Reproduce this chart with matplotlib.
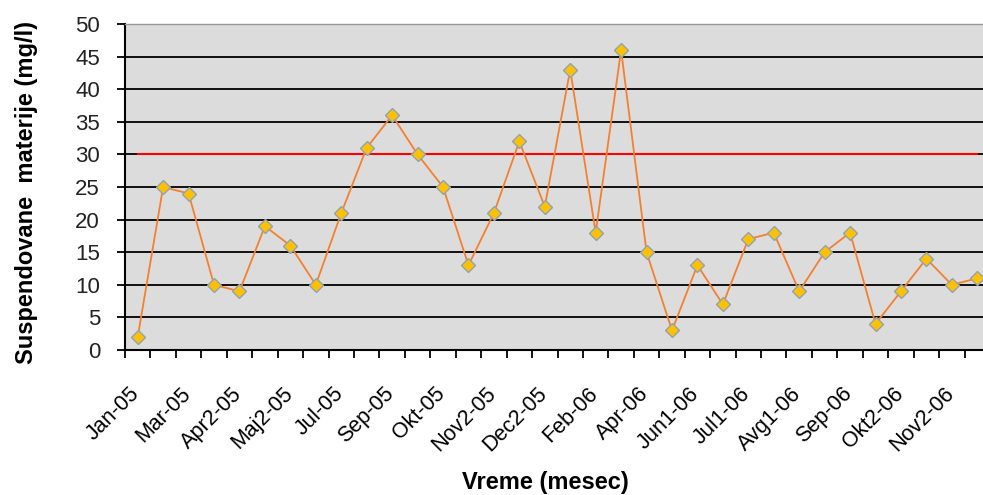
import matplotlib
matplotlib.use("Agg")
import matplotlib.pyplot as plt
from matplotlib.ticker import FixedLocator, MultipleLocator

plt.rcParams['font.family'] = ['Liberation Sans', 'DejaVu Sans']

# months (some months sampled twice), only every other one is labelled
months = ["Jan-05", "Feb-05", "Mar-05", "Apr1-05", "Apr2-05", "Maj1-05", "Maj2-05",
          "Jun-05", "Jul-05", "Avg-05", "Sep-05", "Sep2-05", "Okt-05", "Nov1-05",
          "Nov2-05", "Dec1-05", "Dec2-05", "Jan-06", "Feb-06", "Mar-06", "Apr-06",
          "Maj-06", "Jun1-06", "Jun2-06", "Jul1-06", "Jul2-06", "Avg1-06", "Avg2-06",
          "Sep-06", "Okt1-06", "Okt2-06", "Nov1-06", "Nov2-06", "Dec-06"]
suspended = [2, 25, 24, 10, 9, 19, 16, 10, 21, 31, 36, 30, 25, 13, 21, 32, 22,
             43, 18, 46, 15, 3, 13, 7, 17, 18, 9, 15, 18, 4, 9, 14, 10, 11]
limit = [30] * len(months)

fig = plt.figure(figsize=(9.83, 4.95), dpi=100)
ax = fig.add_axes([125 / 983, 145 / 495, 865 / 983, 326 / 495])
ax.set_facecolor("#DCDCDC")

x = list(range(len(months)))
ax.yaxis.grid(True, color="black", linewidth=1.3)
ax.set_axisbelow(True)
ax.plot(x, limit, color="#FF0000", linewidth=1.5, zorder=2)
ax.plot(x, suspended, color="#F4802F", linewidth=1.3, marker="D", markersize=7.5,
        markerfacecolor="#FFC000", markeredgecolor="#8FA3B3", markeredgewidth=1.0,
        zorder=3)

ax.set_xlim(-0.5, len(months) - 0.5)
ax.set_ylim(0, 50)
ax.yaxis.set_major_locator(MultipleLocator(5))

# labels sit slightly right of the category centre (invisible major ticks)
ax.set_xticks([i + 0.25 for i in x[::2]])
ax.set_xticklabels(months[::2], rotation=45, ha="right", va="top")
ax.xaxis.set_minor_locator(FixedLocator([i - 0.5 for i in range(len(months) + 1)]))
ax.tick_params(axis="x", which="major", length=0, pad=24, labelsize=15.5)
ax.tick_params(axis="x", which="minor", length=6, width=1.3, direction="out")
ax.tick_params(axis="y", length=6, width=1.3, direction="out", pad=12,
               labelsize=16, labelcolor="#222222")

for side in ["left", "bottom"]:
    ax.spines[side].set_color("black")
    ax.spines[side].set_linewidth(1.5)
ax.spines["top"].set_color("#9A9A9A")
ax.spines["top"].set_linewidth(1.0)
ax.spines["right"].set_visible(False)

fig.text(545 / 983, 1 - 482 / 495, "Vreme (mesec)", ha="center", va="center",
         fontsize=17, fontweight="bold")
fig.text(27 / 983, 1 - 192 / 495, "Suspendovane  materije (mg/l)", ha="center",
         va="center", rotation=90, fontsize=17, fontweight="bold")

fig.savefig("out.png", dpi=100)
